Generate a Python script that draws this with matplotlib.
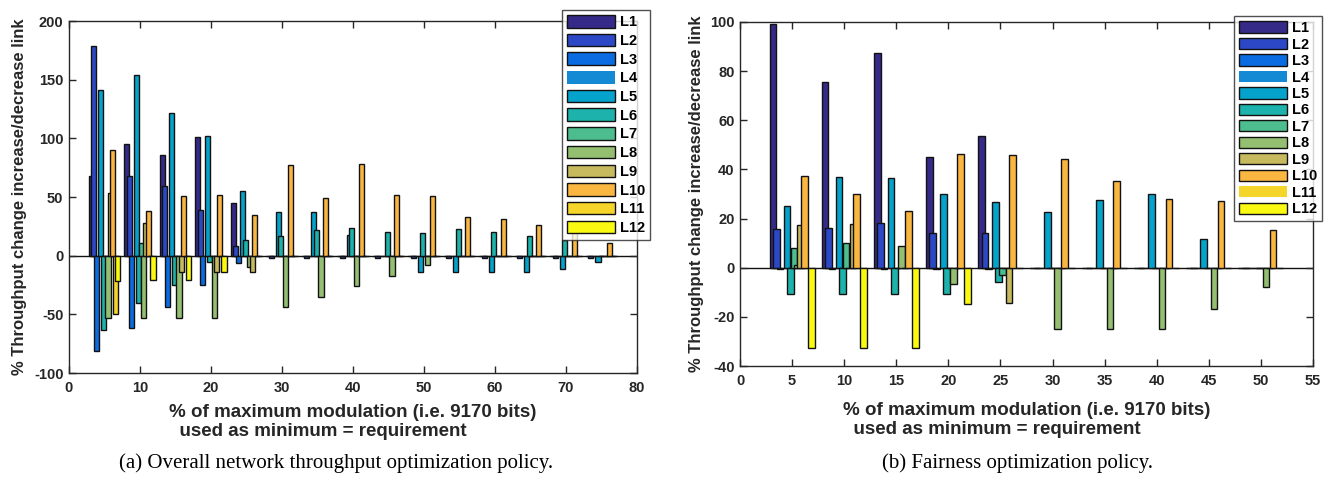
import matplotlib.pyplot as plt
import numpy as np

plt.rcParams['font.family'] = ['Liberation Sans', 'DejaVu Sans']
plt.rcParams['axes.unicode_minus'] = False

# link names and parula-like colours
links = ['L1', 'L2', 'L3', 'L4', 'L5', 'L6', 'L7', 'L8', 'L9', 'L10', 'L11', 'L12']
colors = ['#352A87', '#2C48C6', '#0B6BE0', '#148AD4', '#05A2CB', '#1DB3AC',
          '#4DBC8F', '#94BF71', '#C6B95E', '#F9B641', '#F6D52A', '#F9F911']

# (a) overall network throughput optimization policy
x_a = [5, 10, 15, 20, 25, 30, 35, 40, 45, 50, 55, 60, 65, 70, 75]
a_L1 = [68, 95, 86, 101, 45, 0, 0, 0, 0, 0, 0, 0, 0, 0, 0]
a_L2 = [179, 68, 59, 39, 8, -2, -2, -2, -2, -2, -2, -2, -2, -2, -2]
a_L3 = [-81, -62, -44, -25, -6, 0, 0, 0, 0, 0, 0, 0, 0, 0, 0]
a_L4 = [0, 0, 0, 0, 0, 0, 0, 0, 0, 0, 0, 0, 0, 0, 0]
a_L5 = [141, 154, 122, 102, 55, 37, 37, 18, 0, -14, -14, -14, -14, -11, -5]
a_L6 = [-63, -40, -25, -5, 13, 17, 22, 24, 20, 19, 23, 20, 17, 13, 0]
a_L7 = [0, 11, 0, 0, 0, 0, 0, 0, 0, 0, 0, 0, 0, 0, 0]
a_L8 = [-53, -53, -53, -53, -10, -44, -35, -26, -17, -8, 0, 0, 0, 0, 0]
a_L9 = [53, 28, -14, -14, -14, 0, 0, 0, 0, 0, 0, 0, 0, 0, 0]
a_L10 = [90, 38, 51, 52, 35, 77, 49, 78, 52, 51, 33, 31, 26, 20, 11]
a_L11 = [-50, 0, 0, 0, 0, 0, 0, 0, 0, 0, 0, 0, 0, 0, 0]
a_L12 = [-22, -21, -21, -14, 0, 0, 0, 0, 0, 0, 0, 0, 0, 0, 0]

# (b) fairness optimization policy
x_b = [5, 10, 15, 20, 25, 30, 35, 40, 45, 50]
b_L1 = [99, 75.5, 87.5, 45, 53.5, 0, 0, 0, 0, 0]
b_L2 = [15.6, 16, 18, 14, 14.2, 0, 0, 0, 0, 0]
b_L3 = [-0.5, -0.5, -0.5, -0.5, -0.5, 0, 0, 0, 0, 0]
b_L4 = [0, 0, 0, 0, 0, 0, 0, 0, 0, 0]
b_L5 = [25, 37, 36.5, 30, 26.7, 22.5, 27.7, 30, 11.5, 0]
b_L6 = [-10.7, -10.7, -10.7, -10.7, -6, 0, 0, 0, 0, 0]
b_L7 = [8, 10, 0, 0, -3, 0, 0, 0, 0, 0]
b_L8 = [1, 0, 9, -6.6, 0, -25, -25, -25, -17, -8]
b_L9 = [17.4, 17.8, 0, 0, -14.3, 0, 0, 0, 0, 0]
b_L10 = [37.2, 30.2, 23, 46.3, 46, 44.3, 35.4, 28, 27.2, 15.2]
b_L11 = [0, 0, 0, 0, 0, 0, 0, 0, 0, 0]
b_L12 = [-32.8, -32.8, -32.8, -14.8, 0, 0, 0, 0, 0, 0]

series_a = [a_L1, a_L2, a_L3, a_L4, a_L5, a_L6, a_L7, a_L8, a_L9, a_L10, a_L11, a_L12]
series_b = [b_L1, b_L2, b_L3, b_L4, b_L5, b_L6, b_L7, b_L8, b_L9, b_L10, b_L11, b_L12]

no_edge_a = {'L4'}
no_edge_b = {'L4', 'L11'}

xlabel = '% of maximum modulation (i.e. 9170 bits)\n  used as minimum = requirement'
ylabel = '% Throughput change increase/decrease link'


def grouped_bars(ax, x, series, barw, no_edge):
    x = np.asarray(x, dtype=float)
    slot = 0.8 * 5 / len(series)
    for i, (name, vals) in enumerate(zip(links, series)):
        pos = x + (i - 5.5) * slot
        if name in no_edge:
            ax.bar(pos, vals, width=barw, color=colors[i], edgecolor='none',
                   label=name)
        else:
            ax.bar(pos, vals, width=barw, color=colors[i], edgecolor='#111111',
                   linewidth=1.0, label=name)
    ax.axhline(0, color='#111111', linewidth=1.0, zorder=0.5)


def style_axes(ax):
    ax.tick_params(direction='in', length=5, width=1, top=True, right=True,
                   labelsize=10.5, colors='#262626', pad=4)
    ax.tick_params(axis='x', pad=6)
    for lab in ax.get_xticklabels() + ax.get_yticklabels():
        lab.set_fontweight('bold')
    for sp in ax.spines.values():
        sp.set_color('#262626')
        sp.set_linewidth(1.0)


def add_legend(ax, anchor, handleheight, labelspacing):
    leg = ax.legend(loc='upper left', bbox_to_anchor=anchor,
                    bbox_transform=fig.transFigure, fontsize=10.5, frameon=True,
                    fancybox=False, edgecolor='#262626', handlelength=3.3,
                    handleheight=handleheight, labelspacing=labelspacing,
                    handletextpad=0.3, borderpad=0.35, borderaxespad=0)
    for t in leg.get_texts():
        t.set_fontweight('bold')
    leg.get_frame().set_linewidth(1.0)
    return leg


fig = plt.figure(figsize=(13.36, 4.83), dpi=100)

ax1 = fig.add_axes([0.0516, 0.2277, 0.4252, 0.7288])
grouped_bars(ax1, x_a, series_a, 0.72, no_edge_a)
ax1.set_xlim(0, 80)
ax1.set_ylim(-100, 200)
ax1.set_xticks(range(0, 81, 10))
ax1.set_yticks(range(-100, 201, 50))
style_axes(ax1)
ax1.set_xlabel(xlabel, fontsize=13.5, fontweight='bold', multialignment='left',
               labelpad=6, color='#262626', linespacing=1.15)
ax1.set_ylabel(ylabel, fontsize=12, fontweight='bold', color='#262626')
ax1.yaxis.set_label_coords(-0.074, 0.5)
add_legend(ax1, (562 / 1336, 1 - 10 / 483), 0.95, 0.3)

ax2 = fig.add_axes([0.5539, 0.2422, 0.4289, 0.7123])
grouped_bars(ax2, x_b, series_b, 0.64, no_edge_b)
ax2.set_xlim(0, 55)
ax2.set_ylim(-40, 100)
ax2.set_xticks(range(0, 56, 5))
ax2.set_yticks(range(-40, 101, 20))
style_axes(ax2)
ax2.set_xlabel(xlabel, fontsize=13.5, fontweight='bold', multialignment='left',
               labelpad=10, color='#262626', linespacing=1.15)
ax2.set_ylabel(ylabel, fontsize=12, fontweight='bold', color='#262626')
ax2.yaxis.set_label_coords(-0.062, 0.5)
add_legend(ax2, (1234 / 1336, 1 - 16 / 483), 0.8, 0.17)

fig.text(336 / 1336, 1 - 463 / 483, '(a) Overall network throughput optimization policy.',
         ha='center', va='center', fontsize=15, family='Liberation Serif')
fig.text(1017 / 1336, 1 - 463 / 483, '(b) Fairness optimization policy.',
         ha='center', va='center', fontsize=15, family='Liberation Serif')

fig.savefig('out.png', dpi=100)
